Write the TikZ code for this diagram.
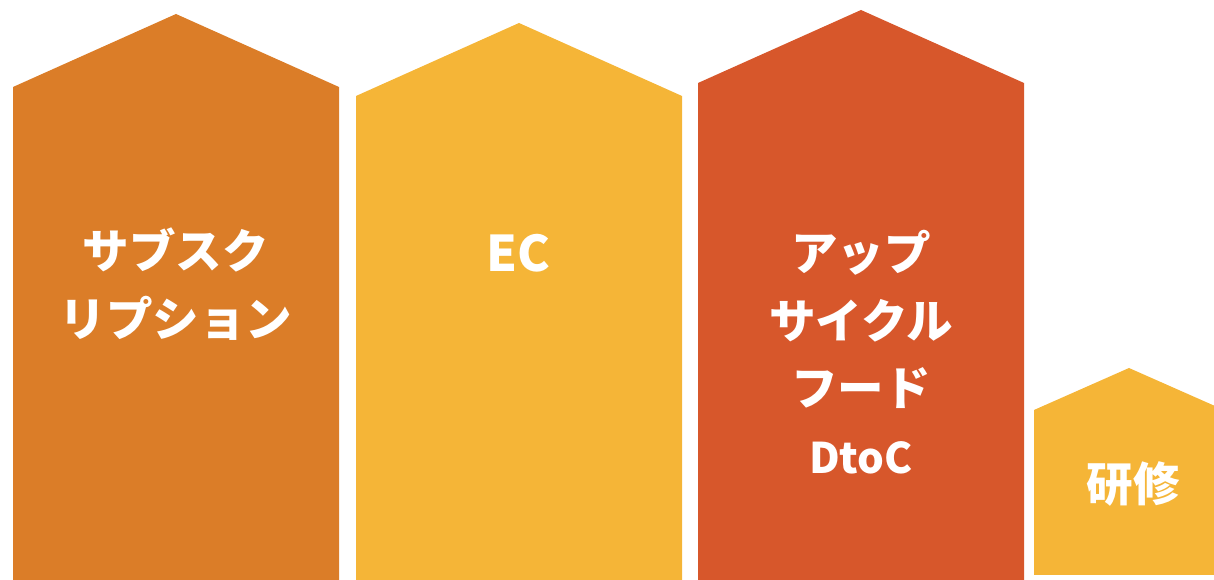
\documentclass[tikz,border=0pt]{standalone}
\usepackage{fontspec}
\setmainfont{Noto Sans CJK JP}
\definecolor{tabOrange}{RGB}{219,125,40}
\definecolor{tabYellow}{RGB}{245,181,55}
\definecolor{tabRed}{RGB}{215,87,43}
\begin{document}
\begin{tikzpicture}[x=0.02cm,y=0.02cm]
\tikzstyle{every node}+=[inner sep=0pt, text=white, align=center, font=\fontsize{26.5}{38.5}\selectfont\bfseries]
\useasboundingbox (0,0) rectangle (1214,-580);
\fill [tabOrange] (13,-580) -- (13,-87) -- (176,-14) -- (339,-87) -- (339,-580) -- cycle;
\fill [tabYellow] (356,-580) -- (356,-96) -- (519,-23) -- (682,-96) -- (682,-580) -- cycle;
\fill [tabRed] (698,-580) -- (698,-83) -- (861,-10) -- (1024,-83) -- (1024,-580) -- cycle;
\fill [tabYellow] (1034,-575) -- (1034,-410) -- (1129,-368) -- (1224,-410) -- (1224,-575) -- cycle;
\node (subsc) at (176,-284) {サブスク\\リプション};
\node (ec) at (518,-253) {\fontsize{28}{38.5}\selectfont EC};
\node (upcyc) at (861,-352) {アップ\\サイクル\\フード\\{\fontsize{24}{38.5}\selectfont DtoC}};
\node (kenshu) at (1133,-484) {研修};
\end{tikzpicture}
\end{document}
